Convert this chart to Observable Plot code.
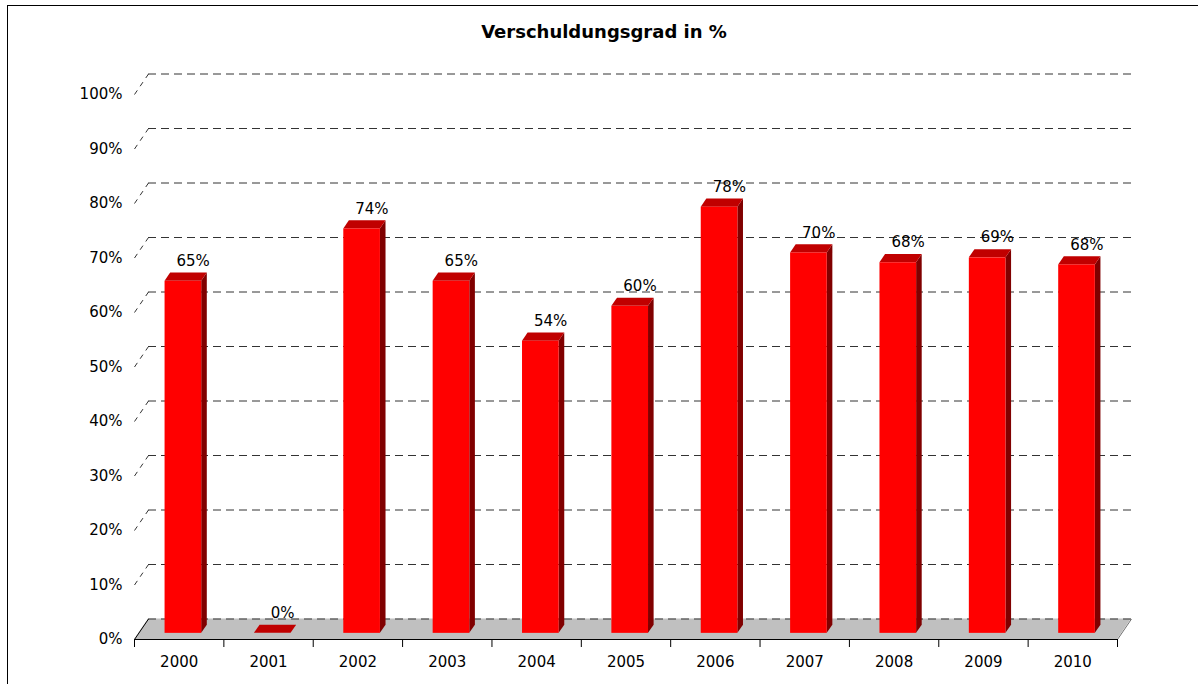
<!DOCTYPE html>
<html>
<head>
<meta charset="utf-8">
<script src="https://cdn.jsdelivr.net/npm/d3@7"></script>
<script src="https://cdn.jsdelivr.net/npm/@observablehq/plot@0.6"></script>
<style>
  html, body { margin: 0; padding: 0; background: #fff; overflow: hidden; width: 1198px; height: 684px; }
  #frame { position: absolute; left: 7px; top: 5px; width: 1400px; height: 900px;
           border-left: 1.5px solid #000; border-top: 1.5px solid #000; box-sizing: border-box; }
  #title { position: absolute; left: 0; top: 21px; width: 1208px; text-align: center;
           font-family: "DejaVu Sans", Verdana, sans-serif; font-weight: bold; font-size: 18px; color: #000; }
  #chart { position: absolute; left: 0; top: 0; }
</style>
</head>
<body>
<div id="frame"></div>
<div id="chart"></div>
<div id="title">Verschuldungsgrad in %</div>
<script>
// ---- data ----
const years = ["2000", "2001", "2002", "2003", "2004", "2005", "2006", "2007", "2008", "2009", "2010"];
const values = [64.6, 0, 74.2, 64.6, 53.6, 60.0, 78.2, 69.8, 68.0, 68.9, 67.6];
const yTicks = [0, 10, 20, 30, 40, 50, 60, 70, 80, 90, 100];

// ---- layout ----
const W = 1198, H = 684;
const mL = 134, mR = 81, mT = 94, mB = 45;
const DX = 14, DY = 20.5;          // pixel depth of the 3D floor
const f0 = 0.3, f1 = 0.7;          // depth fractions of the bars
const barIn = 0.295, barOut = 0.705;
const ddx = DX / ((W - mL - mR) / years.length);   // depth in x data units
const ddy = DY / ((H - mT - mB) / 100);            // depth in y data units
const n = years.length;

const data = years.map((year, i) => ({year, i, value: values[i]}));

const sidePts = data.flatMap(d => [f0, f1].map(f => ({
  year: d.year, x: d.i + barOut + f * ddx, y1: f * ddy, y2: d.value + f * ddy})));
const topPts = data.flatMap(d => [f0, f1].map(f => ({
  year: d.year, y: d.value + f * ddy, x1: d.i + barIn + f * ddx, x2: d.i + barOut + f * ddx})));
const floorPts = [{y: 0, x1: 0, x2: n}, {y: ddy, x1: ddx, x2: n + ddx}];

const dash = "8,5";
const gridColor = "#333";

const chart = Plot.plot({
  width: W, height: H,
  marginLeft: mL, marginRight: mR, marginTop: mT, marginBottom: mB,
  style: {fontFamily: "DejaVu Sans, Verdana, sans-serif", fontSize: "15px", color: "#000", background: "transparent"},
  x: {type: "linear", domain: [0, n], axis: null, label: null},
  y: {type: "linear", domain: [0, 100], axis: null, label: null},
  marks: [
    // floor
    Plot.areaX(floorPts, {y: "y", x1: "x1", x2: "x2", fill: "#c0c0c0"}),
    Plot.link([0], {x1: () => n, y1: () => 0, x2: () => n + ddx, y2: () => ddy, stroke: "#707070", strokeWidth: 1}),
    // back gridlines
    Plot.ruleY(yTicks, {y: d => d + ddy, x1: () => ddx, x2: () => n + ddx, stroke: gridColor, strokeWidth: 1, strokeDasharray: dash}),
    // wall stubs
    Plot.link(yTicks.filter(t => t > 0), {x1: () => 0, y1: d => d, x2: () => ddx, y2: d => d + ddy, stroke: gridColor, strokeWidth: 1, strokeDasharray: "5,5"}),
    Plot.link([0], {x1: () => 0, y1: () => 0, x2: () => ddx, y2: () => ddy, stroke: "#000", strokeWidth: 1}),
    Plot.ruleY([0], {stroke: "#000", strokeWidth: 1}),
    // bars: side, top, front
    Plot.areaY(sidePts, {x: "x", y1: "y1", y2: "y2", z: "year", fill: "#800000"}),
    Plot.areaX(topPts, {y: "y", x1: "x1", x2: "x2", z: "year", fill: "#c00000"}),
    Plot.rect(data, {x1: d => d.i + barIn + f0 * ddx, x2: d => d.i + barOut + f0 * ddx,
                     y1: () => f0 * ddy, y2: d => d.value + f0 * ddy, fill: "#ff0000"}),
    // value labels
    Plot.text(data, {x: d => d.i + 0.5 + ddx, y: d => d.value + ddy, text: d => Math.round(d.value) + "%",
                     lineAnchor: "bottom", textAnchor: "middle", dy: -1, fontSize: 15, fill: "#000"}),
    // axes
    Plot.axisY({ticks: yTicks, tickSize: 0, tickPadding: 12, tickFormat: d => d + "%", label: null, fontSize: 15}),
    Plot.axisX({ticks: d3.range(0, n + 1), tickSize: 8, tickFormat: () => "", label: null, stroke: "#000"}),
    Plot.axisX({ticks: data.map(d => d.i + 0.5), tickSize: 0, tickPadding: 17, tickFormat: v => years[Math.floor(v)], label: null, fontSize: 15})
  ]
});
document.getElementById("chart").appendChild(chart);
</script>
</body>
</html>
